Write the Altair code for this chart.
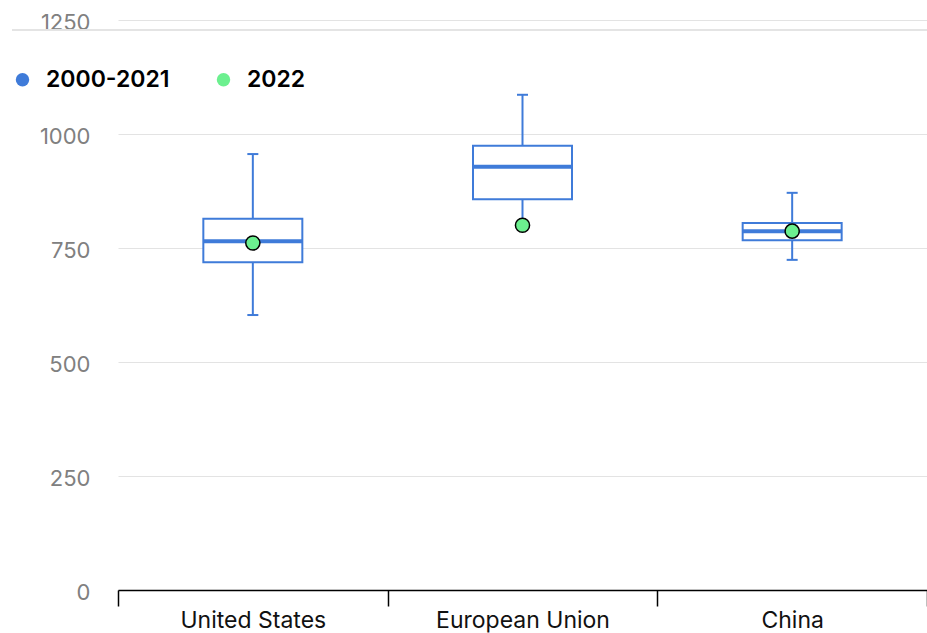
import altair as alt
import pandas as pd

regions = ["United States", "European Union", "China"]
whisker_low = [603, 805, 724]
quartile_1 = [719, 857, 767]
median = [765, 928, 787]
quartile_3 = [814, 974, 805]
whisker_high = [956, 1086, 871]
value_2022 = [761, 800, 787]
series_names = ["2000-2021", "2022"]
y_ticks = [0, 250, 500, 750, 1000, 1250]

BLUE = "#3f7bd9"
GREEN = "#6cf08f"

df = pd.DataFrame({
    "region": regions,
    "low": whisker_low,
    "q1": quartile_1,
    "median": median,
    "q3": quartile_3,
    "high": whisker_high,
    "v2022": value_2022,
    "series": ["2022"] * len(regions),
})

x_enc = alt.X(
    "region:N",
    sort=regions,
    scale=alt.Scale(paddingInner=0, paddingOuter=0),
    axis=alt.Axis(
        title=None, labelAngle=0, tickBand="extent", domainColor="black",
        domainWidth=1.5, tickColor="black", tickWidth=1.5, tickSize=16,
        labelColor="#111111", labelFontSize=23, labelFont="Inter",
        labelFontWeight="normal", labelPadding=3, grid=False,
    ),
)
y_scale = alt.Scale(domain=[0, 1250], nice=False)
y_axis = alt.Axis(
    title=None, values=y_ticks, format="d", domain=False, ticks=False,
    labelColor="#808080", labelFontSize=22, labelFont="Inter",
    labelPadding=28, labelOffset=2, gridColor="#e3e3e3", gridWidth=1,
)

base = alt.Chart(df)

lower_whisker = base.mark_rule(color=BLUE, strokeWidth=2).encode(
    x=x_enc, y=alt.Y("low:Q", scale=y_scale, axis=y_axis), y2="q1:Q"
)
upper_whisker = base.mark_rule(color=BLUE, strokeWidth=2).encode(
    x=x_enc, y=alt.Y("q3:Q", scale=y_scale, axis=y_axis), y2="high:Q"
)
box = base.mark_bar(size=99, fill="white", stroke=BLUE, strokeWidth=2).encode(
    x=x_enc, y=alt.Y("q1:Q", scale=y_scale, axis=y_axis), y2="q3:Q"
)
med = base.mark_tick(color=BLUE, size=99, thickness=4, opacity=1).encode(
    x=x_enc, y=alt.Y("median:Q", scale=y_scale, axis=y_axis)
)
cap_low = base.mark_tick(color=BLUE, size=11, thickness=2, opacity=1).encode(
    x=x_enc, y=alt.Y("low:Q", scale=y_scale, axis=y_axis)
)
cap_high = base.mark_tick(color=BLUE, size=11, thickness=2, opacity=1).encode(
    x=x_enc, y=alt.Y("high:Q", scale=y_scale, axis=y_axis)
)
points = base.mark_point(
    filled=True, size=200, stroke="black", strokeWidth=1.5, opacity=1
).encode(
    x=x_enc,
    y=alt.Y("v2022:Q", scale=y_scale, axis=y_axis),
    color=alt.Color(
        "series:N",
        scale=alt.Scale(domain=series_names, range=[BLUE, GREEN]),
        legend=alt.Legend(
            title=None, orient="none", legendX=-107, legendY=48,
            direction="horizontal", symbolType="circle", symbolSize=180,
            symbolStrokeWidth=0, labelFont="Inter", labelFontSize=23,
            labelFontWeight=600, labelColor="black", columnPadding=42,
            labelOffset=12, padding=0,
        ),
    ),
)

# top decoration: white strip and separator line under the top label
cover = alt.Chart(df).mark_rect(color="white").encode(
    x=alt.value(-110), x2=alt.value(-10), y=alt.value(10), y2=alt.value(40)
)
sep = alt.Chart(df).mark_rule(color="#e3e3e3", strokeWidth=1.5).encode(
    x=alt.value(-106), x2=alt.value(809), y=alt.value(10)
)

chart = alt.layer(
    lower_whisker, upper_whisker, box, med, cap_low, cap_high, cover, sep, points
).properties(
    width=809, height=570,
    padding={"left": 118, "top": 20, "right": 0, "bottom": 43},
    autosize=alt.AutoSizeParams(type="none"),
).configure_view(stroke=None)

chart.save("out.html", embed_options={"renderer": "svg", "actions": False})
